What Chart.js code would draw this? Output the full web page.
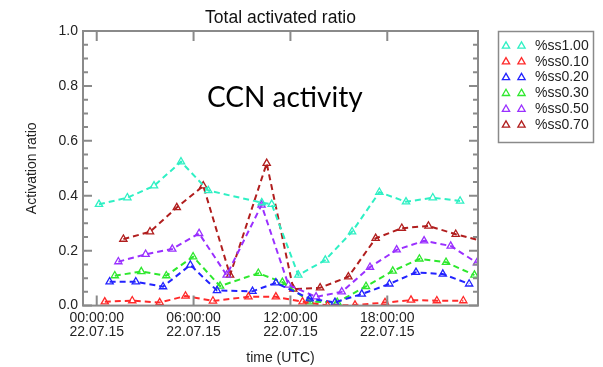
<!DOCTYPE html>
<html lang="en">
<head>
  <meta charset="UTF-8">
  <title>Total activated ratio</title>
  <script src="https://cdn.jsdelivr.net/npm/chart.js"></script>
  <style>
    html, body { margin: 0; padding: 0; background: #fff; }
  </style>
</head>
<body>
  <canvas id="grafico" width="603" height="367"></canvas>

  <script>
    // hours since 00:00 UTC 22.07.15, one array pair per supersaturation level
    const oreSs100 = [0.14, 1.9, 3.55, 5.22, 6.91, 10.22, 10.84, 12.49, 14.16, 15.82, 17.51, 19.16, 20.82, 22.51];
    const ratioSs100 = [0.369, 0.393, 0.436, 0.524, 0.419, 0.375, 0.369, 0.111, 0.166, 0.269, 0.413, 0.378, 0.393, 0.381];

    const oreSs010 = [0.5, 2.2, 3.9, 5.5, 7.2, 9.4, 11.1, 12.75, 14.3, 16.0, 17.86, 19.47, 21.07, 22.71];
    const ratioSs010 = [0.014, 0.018, 0.011, 0.035, 0.017, 0.032, 0.032, 0.014, 0.0, 0.002, 0.011, 0.02, 0.018, 0.018];

    const oreSs020 = [0.8, 2.42, 4.11, 5.8, 7.45, 9.65, 11.1, 13.2, 14.76, 16.42, 18.13, 19.78, 21.44, 23.07];
    const ratioSs020 = [0.087, 0.087, 0.069, 0.148, 0.055, 0.052, 0.083, 0.025, 0.012, 0.042, 0.079, 0.121, 0.115, 0.079];

    const oreSs030 = [1.12, 2.76, 4.31, 5.97, 7.64, 10.01, 11.5, 13.2, 14.9, 16.68, 18.34, 19.99, 21.64, 23.4];
    const ratioSs030 = [0.109, 0.124, 0.109, 0.178, 0.071, 0.118, 0.085, 0.014, 0.012, 0.07, 0.126, 0.17, 0.158, 0.111];

    const oreSs050 = [1.34, 3.03, 4.68, 6.34, 8.05, 10.21, 11.88, 13.59, 15.18, 16.93, 18.58, 20.28, 21.93, 23.55];
    const ratioSs050 = [0.16, 0.187, 0.206, 0.263, 0.111, 0.366, 0.075, 0.032, 0.05, 0.14, 0.203, 0.236, 0.217, 0.156];

    const oreSs070 = [1.65, 3.3, 4.96, 6.6, 8.26, 10.53, 12.18, 13.84, 15.59, 17.28, 18.9, 20.55, 22.24, 23.9];
    const ratioSs070 = [0.242, 0.269, 0.357, 0.436, 0.111, 0.518, 0.06, 0.065, 0.105, 0.245, 0.282, 0.29, 0.26, 0.235];

    const etichette = ['%ss1.00', '%ss0.10', '%ss0.20', '%ss0.30', '%ss0.50', '%ss0.70'];
    const colori = ['#2ff0c4', '#ff2a2a', '#2323ff', '#2ee82e', '#9a30ff', '#b11e1e'];

    const oreTick = [0, 6, 12, 18];
    const etichetteTick = [['00:00:00', '22.07.15'], ['06:00:00', '22.07.15'], ['12:00:00', '22.07.15'], ['18:00:00', '22.07.15']];

    const serie = [
      [oreSs100, ratioSs100],
      [oreSs010, ratioSs010],
      [oreSs020, ratioSs020],
      [oreSs030, ratioSs030],
      [oreSs050, ratioSs050],
      [oreSs070, ratioSs070]
    ];

    const FONT = "'Liberation Sans', Arial, sans-serif";
    const GRIGIO = '#8a8a8a';

    // frame with inward ticks on all four sides
    const cornice = {
      id: 'cornice',
      afterDatasetsDraw(chart) {
        const { ctx, chartArea: a, scales } = chart;
        ctx.save();
        ctx.strokeStyle = GRIGIO;
        ctx.lineWidth = 2;
        ctx.strokeRect(a.left, a.top, a.right - a.left, a.bottom - a.top);
        ctx.beginPath();
        for (let i = 0; i <= 20; i++) {
          const y = scales.y.getPixelForValue(i * 0.05);
          const len = i % 4 === 0 ? 9 : 5;
          ctx.moveTo(a.left, y); ctx.lineTo(a.left + len, y);
          ctx.moveTo(a.right, y); ctx.lineTo(a.right - len, y);
        }
        oreTick.forEach(h => {
          const x = scales.x.getPixelForValue(h);
          ctx.moveTo(x, a.top); ctx.lineTo(x, a.top + 10);
          ctx.moveTo(x, a.bottom); ctx.lineTo(x, a.bottom - 10);
        });
        ctx.stroke();
        ctx.restore();
      }
    };

    // boxed legend on the right and the overlaid caption
    const legendaBox = {
      id: 'legendaBox',
      afterDraw(chart) {
        const { ctx } = chart;
        ctx.save();
        ctx.strokeStyle = GRIGIO;
        ctx.lineWidth = 1.5;
        ctx.strokeRect(498.5, 31.5, 95, 111);
        chart.data.datasets.forEach((ds, i) => {
          const y = 46 + i * 15.8;
          const stile = { pointStyle: 'triangle', radius: 4.2, borderWidth: 1.3, rotation: 0 };
          ctx.strokeStyle = ds.borderColor;
          ctx.fillStyle = 'rgba(0,0,0,0)';
          ctx.lineWidth = 1.3;
          Chart.helpers.drawPoint(ctx, stile, 506, y);
          Chart.helpers.drawPoint(ctx, stile, 521.5, y);
          ctx.fillStyle = '#222';
          ctx.font = '14px ' + FONT;
          ctx.textBaseline = 'middle';
          ctx.textAlign = 'left';
          ctx.fillText(ds.label, 535, y);
        });
        ctx.fillStyle = '#000';
        ctx.font = "28px Lato, 'Open Sans', sans-serif";
        ctx.textBaseline = 'alphabetic';
        ctx.fillText('CCN activity', 207, 107);
        ctx.restore();
      }
    };

    const grafico = new Chart(document.getElementById('grafico'), {
      type: 'line',
      data: {
        datasets: serie.map(([ore, valori], i) => ({
          label: etichette[i],
          data: ore.map((h, k) => ({ x: h, y: valori[k] })),
          borderColor: colori[i],
          backgroundColor: 'rgba(0,0,0,0)',
          borderWidth: 2,
          borderDash: [6, 4],
          tension: 0,
          fill: false,
          pointStyle: 'triangle',
          pointRadius: 4.2,
          pointBorderWidth: 1.3,
          pointBorderColor: colori[i],
          pointBackgroundColor: 'rgba(0,0,0,0)'
        }))
      },
      options: {
        responsive: false,
        animation: false,
        layout: { padding: { top: 0, right: 125, bottom: 0, left: 0 } },
        plugins: {
          legend: { display: false },
          tooltip: { enabled: false },
          title: {
            display: true,
            fullSize: false,
            text: 'Total activated ratio',
            color: '#111',
            font: { family: FONT, size: 17.5, weight: 'normal' },
            padding: { top: 7.5, bottom: 2.5 }
          }
        },
        scales: {
          x: {
            type: 'linear',
            min: -0.85,
            max: 23.62,
            afterBuildTicks: s => { s.ticks = oreTick.map(v => ({ value: v })); },
            afterFit: s => { s.height = 61.4; },
            grid: { display: false, drawTicks: false },
            border: { display: false },
            ticks: {
              autoSkip: false,
              maxRotation: 0,
              padding: 6,
              color: '#222',
              font: { family: FONT, size: 14, lineHeight: 0.96 },
              callback: v => etichetteTick[oreTick.indexOf(v)]
            },
            title: {
              display: true,
              text: 'time (UTC)',
              color: '#222',
              font: { family: FONT, size: 14 },
              padding: { top: 0, bottom: 0 }
            }
          },
          y: {
            min: 0,
            max: 1,
            afterFit: s => { s.width = 83; },
            grid: { display: false, drawTicks: false },
            border: { display: false },
            ticks: {
              stepSize: 0.2,
              padding: 5,
              color: '#222',
              font: { family: FONT, size: 14 },
              callback: v => v.toFixed(1)
            },
            title: {
              display: true,
              text: 'Activation ratio',
              color: '#222',
              font: { family: FONT, size: 14 },
              padding: { top: 24, bottom: 0 }
            }
          }
        }
      },
      plugins: [cornice, legendaBox]
    });
  </script>
</body>
</html>
